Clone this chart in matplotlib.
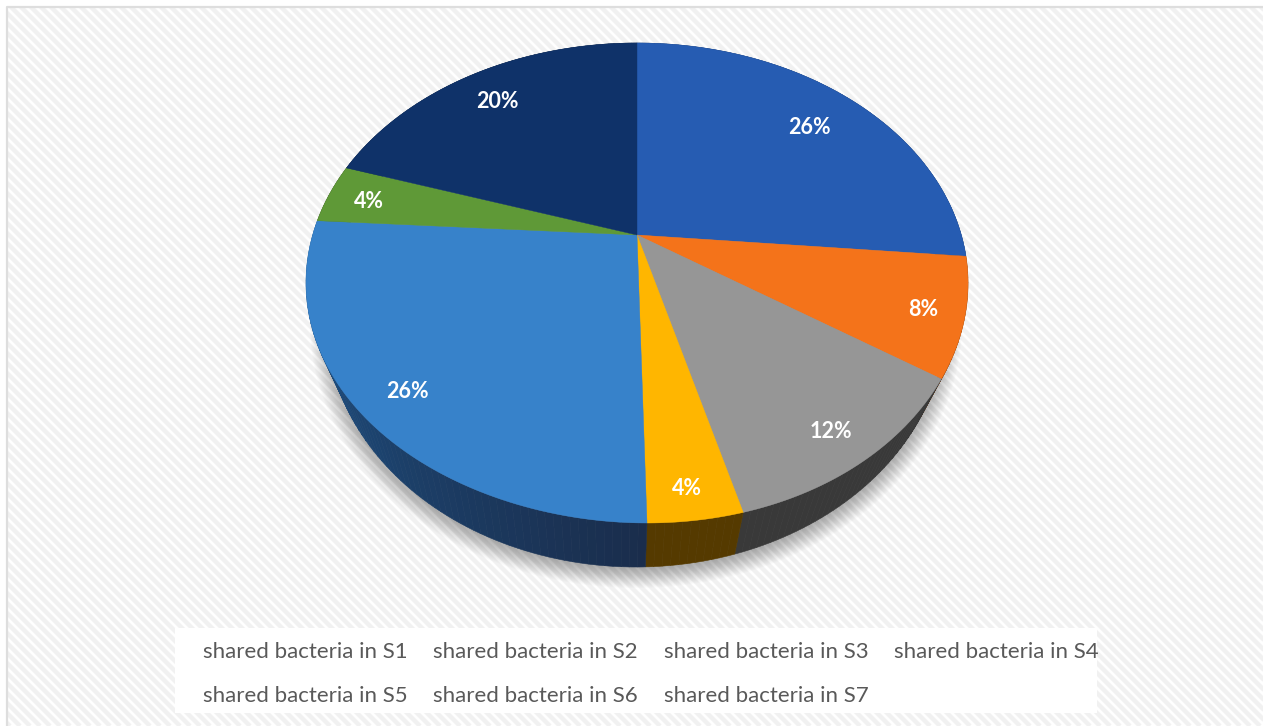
import matplotlib
matplotlib.use('Agg')
import matplotlib.pyplot as plt
import numpy as np
from matplotlib.patches import Ellipse, Polygon, Rectangle
from matplotlib.collections import LineCollection
from matplotlib.colors import to_rgb

names = ['shared bacteria in S1', 'shared bacteria in S2', 'shared bacteria in S3', 'shared bacteria in S4',
         'shared bacteria in S5', 'shared bacteria in S6', 'shared bacteria in S7']
percent = [26, 8, 12, 4, 26, 4, 20]
top_colors = ['#265cb2', '#f4731a', '#969696', '#ffb600', '#3782ca', '#5f9937', '#0f3269']
side_colors = ['#173a70', '#7f3c0b', '#393939', '#553a00', '#1f5a92', '#33521e', '#0a1f40']

plt.rcParams['font.family'] = ['Lato', 'DejaVu Sans']

W, H = 1263, 726
fig = plt.figure(figsize=[W / 100, H / 100], dpi=100)
ax = fig.add_axes([0, 0, 1, 1])
ax.set_xlim(0, W)
ax.set_ylim(H, 0)
ax.axis('off')

# perspective of the pie top: unit circle -> screen
X0, Y0 = 637, 235
A, B, K = 324.3, 230.4, 0.2
RIM_CX, RIM_CY, RIM_RX, RIM_RY = 637, 283, 331, 240
# lower rim
LOW_CX, LOW_CY, LOW_RX, LOW_RY = 636, 319, 310, 248

def project(theta, rho=1.0):
    # theta in degrees, clockwise from twelve o'clock
    t = np.radians(theta)
    t = t + np.radians(1.6) * np.clip(np.sin(t), 0, None)
    u = rho * np.sin(t)
    v = -rho * np.cos(t)
    w = 1 - K * v
    x = X0 + A * u / w + 10 * np.clip(v, 0, None) ** 4
    y = Y0 + B * v / w
    return x, y

def lower(x, y):
    # point of the lower rim below a point of the upper rim
    t = np.arctan2((y - RIM_CY) / RIM_RY, (x - RIM_CX) / RIM_RX)
    return LOW_CX + LOW_RX * np.cos(t), LOW_CY + LOW_RY * np.sin(t)

# background: white with diagonal stripes, grey frame
ax.add_patch(Rectangle((0, 0), W, H, fc='white', ec='none', zorder=0))
offsets = np.arange(-H, W + 20, 10.0)
segs = [[(o, 0), (o + H, H)] for o in offsets]
ax.add_collection(LineCollection(segs, colors='#f1f1f1', linewidths=3.2, zorder=1))
ax.add_patch(Rectangle((0, 0), 6, H, fc='white', ec='none', zorder=2))
ax.add_patch(Rectangle((0, 0), W, 6, fc='white', ec='none', zorder=2))
ax.plot([6.5, 6.5, W], [H, 6.5, 6.5], color='#dedede', lw=1.6, zorder=3)

# soft shadow under the pie
for i in range(24):
    grow = 16 - i
    ax.add_patch(Ellipse((LOW_CX, LOW_CY + 5), 2 * (LOW_RX + grow), 2 * (LOW_RY + grow),
                         fc='black', ec='none', alpha=0.016, zorder=4))

edges = np.cumsum([0] + percent) * 3.6

# side wall, cut into thin strips so the shade can change along it
for i in range(len(percent)):
    thetas = np.linspace(edges[i], edges[i + 1], max(int(percent[i] * 3), 2))
    for j in range(len(thetas) - 1):
        a = np.linspace(thetas[j], thetas[j + 1], 4)
        x, y = project(a)
        lx, ly = lower(x, y)
        c = side_colors[i]
        if i == 4:
            f = (thetas[j] - edges[i]) / (edges[i + 1] - edges[i])
            c = tuple((1 - f) * p + f * q for p, q in zip(to_rgb('#1a2d4c'), to_rgb('#1f5a92')))
        pts = np.column_stack([np.r_[x, lx[::-1]], np.r_[y, ly[::-1]]])
        ax.add_patch(Polygon(pts, fc=c, ec=c, lw=0.4, zorder=5))

# top of the pie
for i in range(len(percent)):
    a = np.linspace(edges[i], edges[i + 1], 120)
    x, y = project(a)
    pts = np.column_stack([np.r_[X0, x], np.r_[Y0, y]])
    ax.add_patch(Polygon(pts, fc=top_colors[i], ec=top_colors[i], lw=0.3, zorder=6))

label_rho = [0.79, 0.88, 0.88, 0.9, 0.86, 0.87, 0.83]
for i in range(len(percent)):
    lx, ly = project((edges[i] + edges[i + 1]) / 2, label_rho[i])
    ax.text(lx, ly + 3, str(percent[i]) + '%', color='white', fontsize=15.5, fontweight='bold',
            ha='center', va='center', zorder=7)

# legend band, no swatches
ax.add_patch(Rectangle((175, 628), 922, 85, fc='white', ec='none', zorder=4))
for i, name in enumerate(names):
    ax.text(203 + 230.3 * (i % 4), 652 + 44 * (i // 4), name, color='#595959', fontsize=16,
            ha='left', va='center', zorder=7)

fig.savefig('out.png', dpi=100)
